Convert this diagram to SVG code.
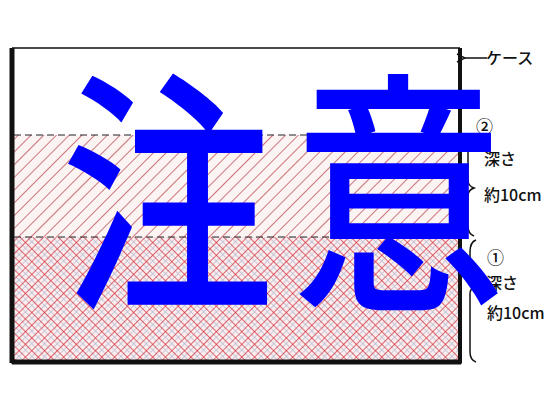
<svg xmlns="http://www.w3.org/2000/svg" width="551" height="396" viewBox="0 0 551 396">
<defs>
<pattern id="hatch" width="9" height="9" patternUnits="userSpaceOnUse" patternTransform="rotate(45)">
<rect width="9" height="9" fill="#fcf3f3"/>
<line x1="0" y1="0" x2="0" y2="9" stroke="#b8404a" stroke-width="1.4"/>
</pattern>
<pattern id="cross" width="9" height="9" patternUnits="userSpaceOnUse" patternTransform="rotate(45)">
<rect width="9" height="9" fill="#fbecee"/>
<line x1="4.5" y1="0" x2="4.5" y2="9" stroke="#a9b2c8" stroke-width="0.6"/>
<line x1="0" y1="4.5" x2="9" y2="4.5" stroke="#a9b2c8" stroke-width="0.6"/>
<line x1="0" y1="0" x2="0" y2="9" stroke="#d0303c" stroke-width="1.4"/>
<line x1="0" y1="0" x2="9" y2="0" stroke="#d0303c" stroke-width="1.4"/>
</pattern>
<marker id="arr" markerWidth="10" markerHeight="10" refX="1" refY="5" orient="auto" markerUnits="userSpaceOnUse">
<path d="M9,1 L1,5 L9,9" fill="none" stroke="#111" stroke-width="1.5"/>
</marker>
<style>
.lbl{font-family:"Noto Sans CJK JP","Noto Sans",sans-serif;font-size:16px;font-weight:500;fill:#111}
.dash{stroke:#222;stroke-width:1.2;stroke-dasharray:7 4;fill:none}
.brace{fill:none;stroke:#111;stroke-width:1.5}
</style>
</defs>
<rect width="551" height="396" fill="#fff"/>
<g id="case">
<rect x="14" y="135" width="445" height="102" fill="url(#hatch)"/>
<rect x="14" y="237" width="445" height="124" fill="url(#cross)"/>
<line class="dash" x1="14" y1="135" x2="459" y2="135"/>
<line class="dash" x1="14" y1="237" x2="459" y2="237"/>
<path d="M12,48 H460 M12,48 V363 H461 V48" fill="none" stroke="#111" stroke-width="1.5"/>
<line x1="12" y1="48" x2="12" y2="363" stroke="#111" stroke-width="5"/>
<line x1="12" y1="362" x2="461" y2="362" stroke="#111" stroke-width="5"/>
<line x1="460" y1="48" x2="460" y2="363" stroke="#111" stroke-width="4"/>
</g>
<g id="labels">
<line x1="487" y1="58" x2="465" y2="58" stroke="#111" stroke-width="1.5" marker-end="url(#arr)"/>
<text class="lbl" x="486" y="64">ケース</text>
<text class="lbl" x="476" y="133" style="font-size:17px">②</text>
<path class="brace" d="M474,138 Q468,140 468,150 V180 Q468,186 474,188 Q468,190 468,196 V226 Q468,234 474,236"/>
<text class="lbl" x="484" y="165">深さ</text>
<text class="lbl" x="484" y="201">約10cm</text>
<text class="lbl" x="487" y="264" style="font-size:17px">①</text>
<path class="brace" d="M476,240 Q470,242 470,252 V278 Q470,284 476,286 Q470,288 470,294 V352 Q470,360 476,362"/>
<text class="lbl" x="486" y="289">深さ</text>
<text class="lbl" x="487" y="319">約10cm</text>
</g>
<text x="0" y="291" transform="translate(61,0) scale(0.83,1)" style="font-family:'Noto Sans CJK JP',sans-serif;font-size:257px;font-weight:500;letter-spacing:21px;fill:#0000ff">注意</text>
</svg>
